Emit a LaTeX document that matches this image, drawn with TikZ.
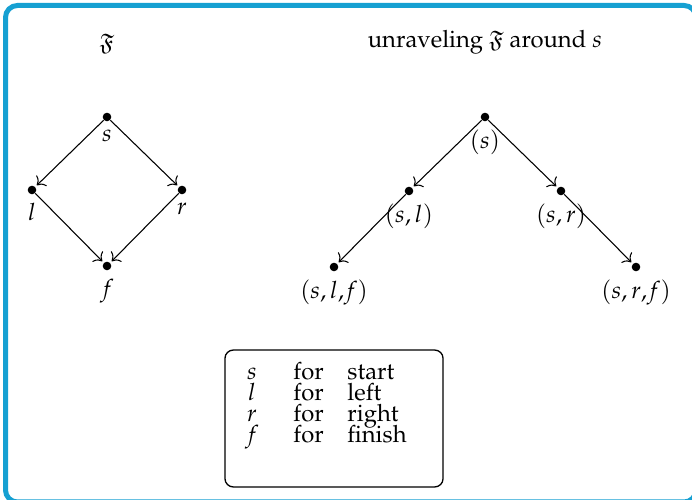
\documentclass[tikz,border=0pt]{standalone}
\usepackage[T1]{fontenc}
\usepackage{mathpazo}
\usepackage{amssymb}
\usetikzlibrary{arrows.meta}
\definecolor{frameblue}{RGB}{22,160,210}
\begin{document}
\begin{tikzpicture}[x=0.42pt,y=-0.42pt,
  dot/.style={circle,fill=black,inner sep=0pt,minimum size=3.6pt},
  arr/.style={-{To[scale=1.15]},line width=0.45pt,shorten >=0.8pt},
  lgd/.style={anchor=base,inner sep=0pt},
  lgdw/.style={anchor=base west,inner sep=0pt}]
\useasboundingbox (0,0) rectangle (692,500);
\clip (0,0) rectangle (692,500);
\draw[frameblue,line width=2.1pt,rounded corners=5pt] (5.5,5.5) rectangle (696,502);

% left graph
\node (t1) at (107,44) {$\mathfrak{F}$};
\node[dot,label=below:$s$] (s) at (107,117) {};
\node[dot,label=below:$l$] (l) at (32,190) {};
\node[dot,label=below:$r$] (r) at (182,190) {};
\node[dot,label=below:$f$] (f) at (107,266) {};
\draw[arr] (s) -- (l);
\draw[arr] (s) -- (r);
\draw[arr] (l) -- (f);
\draw[arr] (r) -- (f);

% right tree
\node (t2) at (485,42) {unraveling $\mathfrak{F}$ around $s$};
\node[dot,label=below:$(s)$] (a) at (485,117) {};
\node[dot,label=below:{$(s,l)$}] (b) at (409,191) {};
\node[dot,label=below:{$(s,r)$}] (c) at (561,191) {};
\node[dot,label=below:{$(s,l,\!f)$}] (d) at (334,267) {};
\node[dot,label=below:{$(s,r,\!f)$}] (e) at (636,267) {};
\draw[arr] (a) -- (b);
\draw[arr] (a) -- (c);
\draw[arr] (b) -- (d);
\draw[arr] (c) -- (e);

% legend
\node[draw,line width=0.55pt,rounded corners=3.5pt,minimum width=91.6pt,minimum height=57.5pt,inner sep=0pt] (box) at (334,418.5) {};
\node[lgd] (k1) at (252,380) {$s$};
\node[lgdw] (f1) at (293,380) {for};
\node[lgdw] (w1) at (347,380) {start};
\node[lgd] (k2) at (252,401) {$l$};
\node[lgdw] (f2) at (293,401) {for};
\node[lgdw] (w2) at (347,401) {left};
\node[lgd] (k3) at (252,422) {$r$};
\node[lgdw] (f3) at (293,422) {for};
\node[lgdw] (w3) at (347,422) {right};
\node[lgd] (k4) at (252,443) {$f$};
\node[lgdw] (f4) at (293,443) {for};
\node[lgdw] (w4) at (347,443) {finish};
\end{tikzpicture}
\end{document}
